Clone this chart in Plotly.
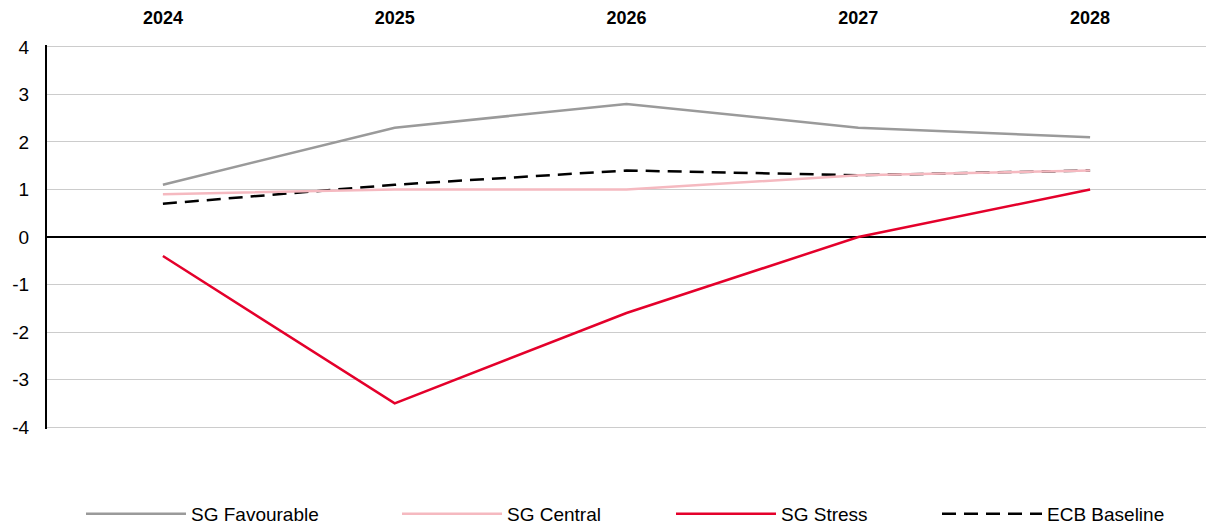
import plotly.graph_objects as go

years = ["2024", "2025", "2026", "2027", "2028"]
sg_favourable = [1.1, 2.3, 2.8, 2.3, 2.1]
sg_central = [0.9, 1.0, 1.0, 1.3, 1.4]
sg_stress = [-0.4, -3.5, -1.6, 0.0, 1.0]
ecb_baseline = [0.7, 1.1, 1.4, 1.3, 1.4]
y_ticks = [-4, -3, -2, -1, 0, 1, 2, 3, 4]
y_tick_labels = ["-4", "-3", "-2", "-1", "0", "1", "2", "3", "4"]

W, H = 1206, 528

fig = go.Figure()
fig.add_trace(go.Scatter(x=years, y=sg_favourable, name="SG Favourable", mode="lines",
                         line=dict(color="#9a9a9a", width=2.5), legend="legend"))
fig.add_trace(go.Scatter(x=years, y=ecb_baseline, name="ECB Baseline", mode="lines",
                         line=dict(color="#000000", width=2.5, dash="14px,8px"), legend="legend4"))
fig.add_trace(go.Scatter(x=years, y=sg_central, name="SG Central", mode="lines",
                         line=dict(color="#f5b9c0", width=2.5), legend="legend2"))
fig.add_trace(go.Scatter(x=years, y=sg_stress, name="SG Stress", mode="lines",
                         line=dict(color="#e4002b", width=2.5), legend="legend3"))

def leg(px):
    return dict(orientation="h", xref="container", yref="container",
                x=(px - 6) / W, xanchor="left", y=1 - 514 / H, yanchor="middle",
                itemwidth=100, bgcolor="rgba(0,0,0,0)",
                font=dict(size=19, family="Liberation Sans, Arial"))

fig.update_layout(
    width=W, height=H,
    margin=dict(l=47, r=0, t=45, b=99, autoexpand=False),
    paper_bgcolor="white", plot_bgcolor="white",
    font=dict(family="Liberation Sans, Arial, sans-serif", color="#000000"),
    showlegend=True,
    legend=leg(87), legend2=leg(403), legend3=leg(677), legend4=leg(943),
    xaxis=dict(type="category", side="top", range=[-0.5, 4.5], showgrid=False,
               showline=False, ticks="", zeroline=False, automargin=False,
               ticklabelstandoff=16,
               tickfont=dict(size=18, family="Liberation Sans, Arial", weight="bold")),
    yaxis=dict(range=[-4.04, 4.04], tickvals=y_ticks, ticktext=y_tick_labels,
               showgrid=True, gridcolor="#cccccc", gridwidth=1.2,
               zeroline=True, zerolinecolor="#000000", zerolinewidth=2,
               showline=True, linecolor="#000000", linewidth=2, ticks="",
               automargin=False,
               tickfont=dict(size=19), ticklabelstandoff=12),
)

fig.write_html("out.html", config={"displayModeBar": False},
               post_script="document.body.style.margin='0';document.body.style.padding='0';")
